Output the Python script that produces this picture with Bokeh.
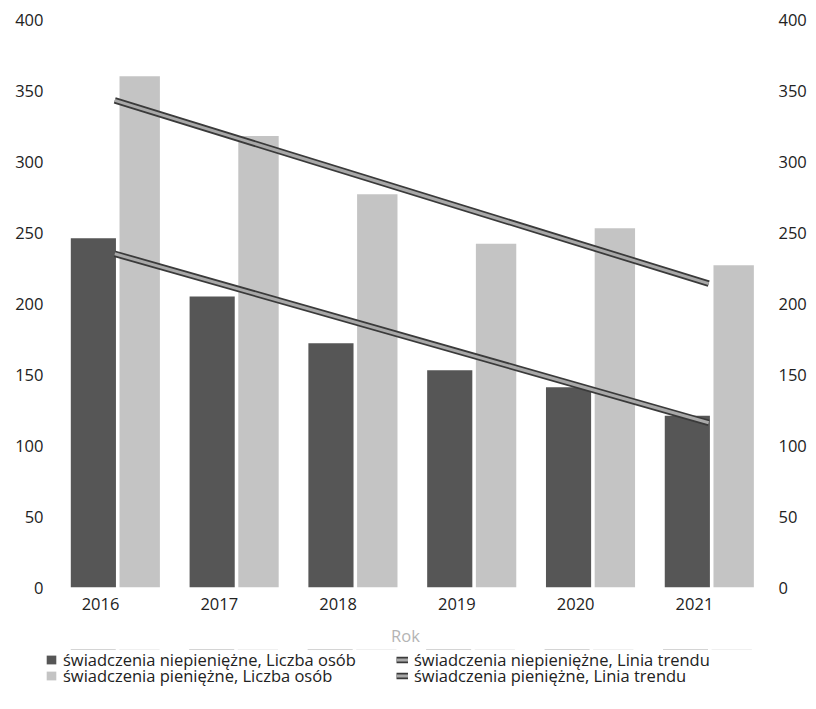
from bokeh.plotting import figure
from bokeh.models import (Range1d, LinearAxis, FixedTicker, Legend, LegendItem,
                          ColumnDataSource)
from bokeh.layouts import column
from bokeh.transform import dodge
from bokeh.embed import file_html
from bokeh.resources import INLINE

# ---- data ----
years = [2016, 2017, 2018, 2019, 2020, 2021]
niepieniezne_liczba = [246, 205, 172, 153, 141, 121]
pieniezne_liczba = [360, 318, 277, 242, 253, 227]
trend_years = [2016, 2021]
niepieniezne_trend = [235, 116]
pieniezne_trend = [343, 214]
y_ticks = [0, 50, 100, 150, 200, 250, 300, 350, 400]

label_np_bar = "świadczenia niepieniężne, Liczba osób"
label_p_bar = "świadczenia pieniężne, Liczba osób"
label_np_tr = "świadczenia niepieniężne, Linia trendu"
label_p_tr = "świadczenia pieniężne, Linia trendu"
x_title = "Rok"

FONT = "Open Sans"
FS = "16.5px"
DARK = "#565656"
LIGHT = "#c4c4c4"
TR_OUT = "#3a3a3a"
TR_IN = "#a8a8a8"

src = ColumnDataSource(dict(year=years, np=niepieniezne_liczba, p=pieniezne_liczba))
tr_src = ColumnDataSource(dict(year=trend_years, np=niepieniezne_trend, p=pieniezne_trend))

W = 807
X_START, X_END = 2015.537, 2021.598
p = figure(frame_width=720, frame_height=568, output_backend="svg",
           toolbar_location=None,
           x_range=Range1d(X_START, X_END), y_range=Range1d(0, 400),
           min_border_left=45, min_border_right=W - 765, min_border_top=19,
           min_border_bottom=10)
p.outline_line_color = None
p.xgrid.visible = False
p.ygrid.visible = False
p.background_fill_color = "white"


def draw_series(fig):
    rn = fig.vbar(x=dodge("year", -0.06), top="np", width=0.38, source=src,
                  fill_color=DARK, line_color=None)
    rp = fig.vbar(x=dodge("year", 0.33), top="p", width=0.34, source=src,
                  fill_color=LIGHT, line_color=None)
    tr_x = dodge("year", 0.12)
    tn = [fig.line(x=tr_x, y="np", source=tr_src, line_color=TR_OUT, line_width=6.5),
          fig.line(x=tr_x, y="np", source=tr_src, line_color=TR_IN, line_width=3)]
    tp = [fig.line(x=tr_x, y="p", source=tr_src, line_color=TR_OUT, line_width=6.5),
          fig.line(x=tr_x, y="p", source=tr_src, line_color=TR_IN, line_width=3)]
    return rn, rp, tn, tp


draw_series(p)


def style_axis(ax):
    ax.axis_line_color = None
    ax.major_tick_line_color = None
    ax.minor_tick_line_color = None
    ax.major_tick_out = 0
    ax.major_tick_in = 0
    ax.major_label_text_font = FONT
    ax.major_label_text_font_size = FS
    ax.major_label_text_color = "#222222"


p.xaxis.ticker = FixedTicker(ticks=years)
style_axis(p.xaxis[0])
p.xaxis.major_label_standoff = 10
p.xaxis.axis_label = x_title
p.xaxis.axis_label_text_font = FONT
p.xaxis.axis_label_text_font_style = "normal"
p.xaxis.axis_label_text_font_size = FS
p.xaxis.axis_label_text_color = "#b4b4b4"
p.xaxis.axis_label_standoff = 11

p.yaxis.ticker = FixedTicker(ticks=y_ticks)
style_axis(p.yaxis[0])
p.yaxis.major_label_standoff = 2

ry = LinearAxis(ticker=FixedTicker(ticks=y_ticks))
style_axis(ry)
ry.major_label_standoff = 13
p.add_layout(ry, "right")

# ---- legend strip below the chart (series kept out of its visible area) ----
LH = 46
leg = figure(width=W, height=LH, output_backend="svg", toolbar_location=None,
             x_range=Range1d(X_START, X_END), y_range=Range1d(-1000, -500),
             x_axis_location=None, y_axis_location=None, min_border=0)
leg.outline_line_color = None
leg.border_fill_color = "white"
leg.xgrid.visible = False
leg.ygrid.visible = False
rn, rp, tn, tp = draw_series(leg)


def add_leg(label, renderers, vx, vy):
    lg = Legend(items=[LegendItem(label=label, renderers=renderers)],
                location=(vx, vy), orientation="vertical",
                padding=0, margin=0, spacing=0,
                border_line_color=None, background_fill_alpha=0,
                glyph_width=12, glyph_height=11, label_height=14,
                label_standoff=6,
                label_text_font=FONT, label_text_font_size=FS,
                label_text_color="#222222")
    leg.add_layout(lg, "center")


add_leg(label_np_bar, [rn], 0, 24)
add_leg(label_p_bar, [rp], 0, 8)
add_leg(label_np_tr, tn, 351, 24)
add_leg(label_p_tr, tp, 351, 8)

open("out.html", "w").write(file_html(column(p, leg, spacing=0), INLINE))
